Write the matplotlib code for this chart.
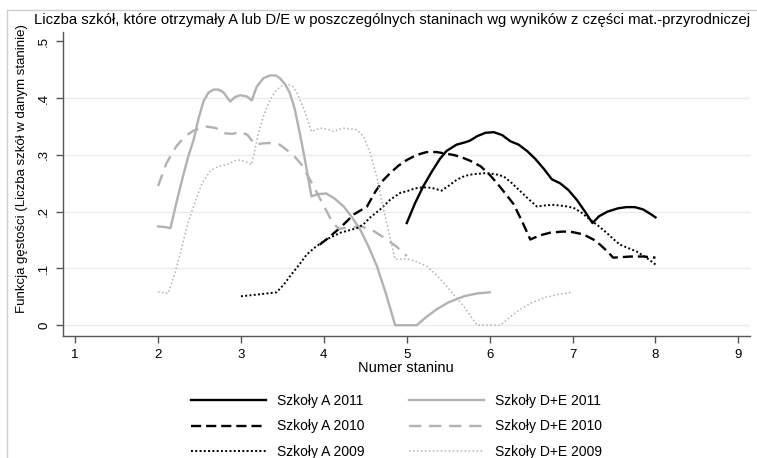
import matplotlib
matplotlib.use("Agg")
import matplotlib.pyplot as plt
from matplotlib.lines import Line2D

plt.rcParams['font.family'] = ['Liberation Sans', 'DejaVu Sans']

# --- data (stanine number vs. density) ---
x_a2011 = [5.0, 5.1, 5.2, 5.3, 5.4, 5.48, 5.6, 5.7, 5.76, 5.85, 5.95, 6.05, 6.15,
           6.25, 6.35, 6.45, 6.55, 6.65, 6.75, 6.85, 6.95, 7.05, 7.15, 7.24, 7.32,
           7.42, 7.55, 7.65, 7.75, 7.85, 7.95, 8.0]
y_a2011 = [0.18, 0.215, 0.245, 0.27, 0.293, 0.307, 0.318, 0.322, 0.325, 0.333, 0.339,
           0.34, 0.335, 0.324, 0.318, 0.307, 0.293, 0.276, 0.257, 0.25, 0.238, 0.221,
           0.2, 0.18, 0.192, 0.2, 0.206, 0.208, 0.208, 0.204, 0.195, 0.19]

x_a2010 = [3.95, 4.03, 4.2, 4.36, 4.52, 4.62, 4.72, 4.8, 4.9, 5.0, 5.12, 5.24, 5.36,
           5.48, 5.56, 5.64, 5.76, 5.89, 6.0, 6.09, 6.2, 6.29, 6.4, 6.49, 6.6, 6.73,
           6.89, 7.0, 7.13, 7.25, 7.33, 7.42, 7.49, 7.6, 7.7, 7.85, 8.0]
y_a2010 = [0.142, 0.151, 0.172, 0.195, 0.209, 0.235, 0.256, 0.268, 0.281, 0.291, 0.3,
           0.305, 0.305, 0.302, 0.3, 0.297, 0.29, 0.28, 0.265, 0.25, 0.23, 0.213, 0.18,
           0.151, 0.158, 0.163, 0.165, 0.164, 0.16, 0.151, 0.142, 0.13, 0.119, 0.12,
           0.121, 0.121, 0.119]

x_a2009 = [3.0, 3.2, 3.43, 3.52, 3.59, 3.7, 3.79, 3.9, 4.03, 4.2, 4.4, 4.48, 4.56,
           4.68, 4.8, 4.92, 5.0, 5.1, 5.2, 5.3, 5.42, 5.5, 5.6, 5.7, 5.8, 5.96, 6.07,
           6.17, 6.27, 6.37, 6.47, 6.57, 6.67, 6.77, 6.9, 7.01, 7.11, 7.21, 7.31, 7.41,
           7.49, 7.57, 7.67, 7.77, 7.88, 8.0]
y_a2009 = [0.051, 0.054, 0.058, 0.072, 0.086, 0.106, 0.124, 0.138, 0.151, 0.163, 0.171,
           0.178, 0.19, 0.204, 0.221, 0.233, 0.236, 0.241, 0.243, 0.242, 0.237, 0.245,
           0.256, 0.263, 0.266, 0.268, 0.266, 0.262, 0.25, 0.236, 0.222, 0.209, 0.211,
           0.212, 0.21, 0.207, 0.198, 0.186, 0.175, 0.163, 0.152, 0.142, 0.136, 0.13,
           0.12, 0.107]

x_de2011 = [2.0, 2.08, 2.15, 2.22, 2.29, 2.36, 2.43, 2.49, 2.55, 2.61, 2.67, 2.73,
            2.79, 2.87, 2.93, 2.99, 3.07, 3.13, 3.19, 3.27, 3.35, 3.42, 3.47, 3.53,
            3.59, 3.65, 3.71, 3.78, 3.85, 3.93, 4.03, 4.13, 4.24, 4.34, 4.44, 4.54,
            4.64, 4.75, 4.86, 5.12, 5.24, 5.36, 5.5, 5.69, 5.85, 6.0]
y_de2011 = [0.174, 0.173, 0.171, 0.215, 0.256, 0.295, 0.327, 0.365, 0.395, 0.41,
            0.415, 0.415, 0.41, 0.394, 0.402, 0.405, 0.403, 0.396, 0.42, 0.435, 0.44,
            0.44, 0.435, 0.425, 0.409, 0.38, 0.338, 0.285, 0.227, 0.231, 0.232, 0.223,
            0.209, 0.19, 0.168, 0.138, 0.104, 0.055, 0.0, 0.0, 0.015, 0.028, 0.04,
            0.051, 0.056, 0.058]

x_de2010 = [2.0, 2.1, 2.22, 2.32, 2.43, 2.59, 2.7, 2.81, 2.9, 2.99, 3.08, 3.17,
            3.25, 3.33, 3.47, 3.63, 3.73, 3.83, 3.9, 4.0, 4.1, 4.18, 4.3, 4.45, 4.6,
            4.76, 4.88, 5.0]
y_de2010 = [0.245, 0.285, 0.315, 0.332, 0.343, 0.35, 0.347, 0.338, 0.337, 0.341, 0.335,
            0.318, 0.32, 0.321, 0.318, 0.3, 0.283, 0.257, 0.238, 0.21, 0.182, 0.17,
            0.172, 0.174, 0.166, 0.151, 0.138, 0.122]

x_de2009 = [2.0, 2.12, 2.2, 2.27, 2.35, 2.43, 2.53, 2.63, 2.73, 2.83, 2.93, 2.99,
            3.06, 3.13, 3.17, 3.21, 3.28, 3.35, 3.43, 3.51, 3.57, 3.63, 3.68, 3.73,
            3.79, 3.85, 3.91, 3.97, 4.05, 4.12, 4.18, 4.24, 4.32, 4.4, 4.48, 4.56,
            4.64, 4.72, 4.79, 4.86, 5.0, 5.12, 5.24, 5.36, 5.48, 5.58, 5.69, 5.77,
            5.85, 6.13, 6.25, 6.37, 6.5, 6.65, 6.82, 6.99]
y_de2009 = [0.059, 0.056, 0.09, 0.127, 0.175, 0.21, 0.25, 0.272, 0.28, 0.283, 0.29,
            0.291, 0.288, 0.283, 0.31, 0.338, 0.372, 0.397, 0.415, 0.423, 0.424, 0.42,
            0.408, 0.391, 0.368, 0.341, 0.345, 0.347, 0.345, 0.341, 0.345, 0.347,
            0.346, 0.344, 0.332, 0.303, 0.26, 0.204, 0.16, 0.116, 0.117, 0.112, 0.104,
            0.088, 0.069, 0.051, 0.033, 0.016, 0.0, 0.0, 0.015, 0.028, 0.039, 0.048,
            0.054, 0.058]

x_ticks = [1, 2, 3, 4, 5, 6, 7, 8, 9]
y_ticks = [0, 0.1, 0.2, 0.3, 0.4, 0.5]
y_ticklabels = ['0', '.1', '.2', '.3', '.4', '.5']

title = ('Liczba szkół, które otrzymały A lub D/E w poszczególnych staninach '
         'wg wyników z części mat.-przyrodniczej')

W, H = 757, 458
fig = plt.figure(figsize=(W / 100, H / 100), dpi=100)
ax = fig.add_axes([62.7 / W, 1 - 336 / H, (750 - 62.7) / W, (336 - 31.7) / H])

gray = '#b2b2b2'
ax.plot(x_a2011, y_a2011, color='black', lw=1.7, label='Szkoły A 2011')
ax.plot(x_de2011, y_de2011, color=gray, lw=1.7, label='Szkoły D+E 2011')
ax.plot(x_a2010, y_a2010, color='black', lw=1.7, linestyle=(0, (4.3, 2.1)),
        label='Szkoły A 2010')
ax.plot(x_de2010, y_de2010, color=gray, lw=1.7, linestyle=(0, (5.2, 3.3)),
        label='Szkoły D+E 2010')
ax.plot(x_a2009, y_a2009, color='black', lw=1.4, linestyle=(0, (1, 1.2)),
        label='Szkoły A 2009')
ax.plot(x_de2009, y_de2009, color=gray, lw=1.1, linestyle=(0, (1, 1.6)),
        label='Szkoły D+E 2009')

ax.set_xlim(0.85, 9.14)
ax.set_ylim(-0.019, 0.517)
ax.set_xticks(x_ticks)
ax.set_yticks(y_ticks)
ax.set_yticklabels(y_ticklabels, rotation=90, va='center')
ax.tick_params(axis='both', direction='out', length=5, width=1, color='#555555',
               labelsize=9.5, pad=4)
ax.grid(axis='y', color='#ebebeb', lw=1)
ax.get_ygridlines()[-1].set_visible(False)
ax.set_axisbelow(True)
for side in ['top', 'right']:
    ax.spines[side].set_visible(False)
for side in ['left', 'bottom']:
    ax.spines[side].set_color('#555555')
    ax.spines[side].set_linewidth(1)

ax.set_xlabel('Numer staninu', fontsize=10.5, labelpad=0)
ax.set_ylabel('Funkcja gęstości (Liczba szkół w danym staninie)', fontsize=9.5)
ax.yaxis.set_label_coords(-0.050, 0.55)

fig.text(392 / W, 1 - 20 / H, title, ha='center', va='center', fontsize=10.7)

# reorder legend: column 1 = A, column 2 = D+E
h, l = ax.get_legend_handles_labels()
order = [0, 2, 4, 1, 3, 5]
fig.legend([h[i] for i in order], [l[i] for i in order], ncol=2, frameon=False,
           loc='upper left', bbox_to_anchor=(191 / W, 1 - 394 / H),
           fontsize=10, handlelength=5.4, handletextpad=0.8, columnspacing=3.2,
           labelspacing=0.82, borderpad=0, borderaxespad=0)

# outer frame of the graph region
fig.add_artist(Line2D([7 / W, 7 / W], [0, 1 - 10 / H], color='#d0d0d0', lw=1))
fig.add_artist(Line2D([7 / W, 1], [1 - 10 / H, 1 - 10 / H], color='#d0d0d0', lw=1))

fig.savefig('out.png', dpi=100)
